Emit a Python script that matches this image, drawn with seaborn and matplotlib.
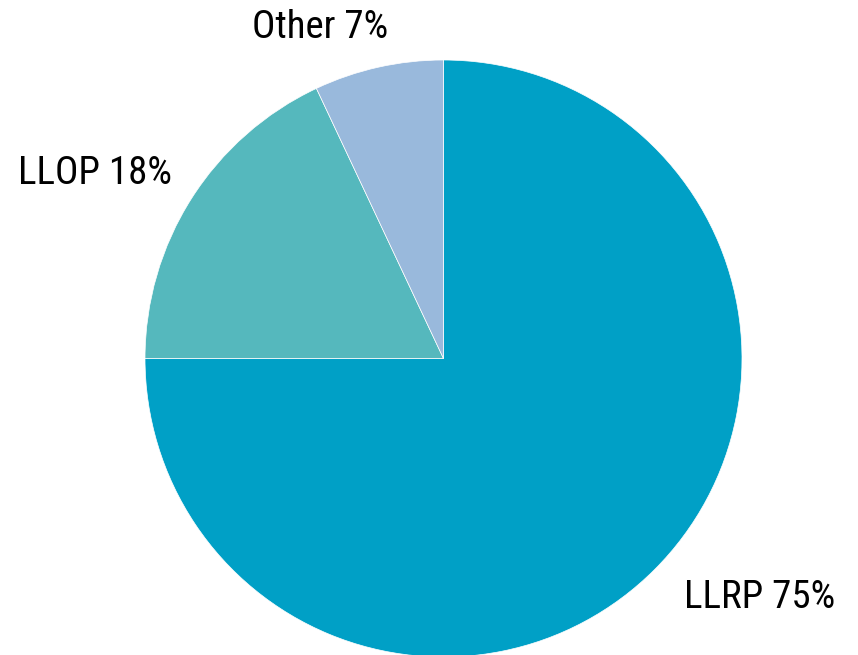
import matplotlib
matplotlib.use("Agg")
import matplotlib.pyplot as plt
import seaborn as sns

# Dados
categorias = ["LLRP", "LLOP", "Other"]
valores = [75, 18, 7]
cores = ["#00A0C6", "#55B8BD", "#99B9DC"]

sns.set_style("white")
plt.rcParams["font.family"] = ["Roboto Condensed", "Archivo Narrow", "DejaVu Sans"]

fig = plt.figure(figsize=(8.58, 6.55), dpi=100)
ax = fig.add_axes([0, 0, 1, 1])

ax.pie(valores, colors=cores, startangle=90, counterclock=False,
       center=(443.5, 296.5), radius=298.5,
       wedgeprops={"edgecolor": "white", "linewidth": 0.5})

# Rótulos
rotulos = [f"{c} {v}%" for c, v in zip(categorias, valores)]
posicoes = [(760, 57), (95, 482), (320, 627)]
for txt, (x, y) in zip(rotulos, posicoes):
    ax.text(x, y, txt, ha="center", va="center", fontsize=28,
            fontweight="normal", color="black")

ax.set_xlim(0, 858)
ax.set_ylim(0, 655)
ax.set_aspect("equal")
ax.axis("off")

fig.savefig("out.png", dpi=100)
